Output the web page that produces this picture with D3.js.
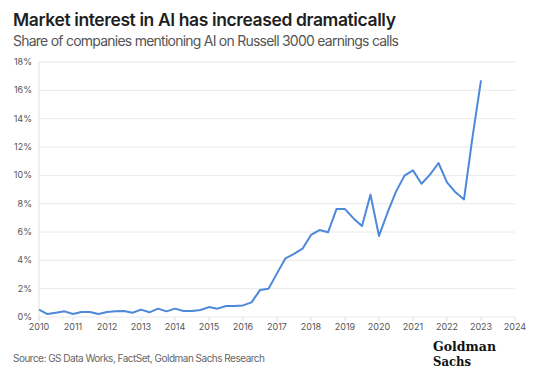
<!DOCTYPE html>
<html>
<head>
<meta charset="utf-8">
<script src="https://cdn.jsdelivr.net/npm/d3@7"></script>
<style>
  body { margin: 0; background: #fff; }
  svg text { font-family: Inter, "Noto Sans", sans-serif; }
</style>
</head>
<body>
<div id="chart"></div>
<script>
// quarterly share of companies mentioning AI (%), starting Q1 2010
var quarters = d3.range(2010, 2023.01, 0.25)
var shares = [
  0.52, 0.21, 0.30, 0.40,
  0.21, 0.35, 0.35, 0.21,
  0.35, 0.40, 0.42, 0.30,
  0.52, 0.33, 0.59, 0.40,
  0.59, 0.42, 0.42, 0.49,
  0.70, 0.59, 0.78, 0.78,
  0.82, 1.03, 1.90, 2.00,
  3.08, 4.14, 4.45, 4.82,
  5.79, 6.14, 5.98, 7.62,
  7.62, 6.96, 6.42, 8.64,
  5.72, 7.36, 8.85, 9.98,
  10.35, 9.41, 10.05, 10.87,
  9.50, 8.80, 8.30, 12.70,
  16.70
]
var yearTicks = d3.range(2010, 2025)
var pctTicks = d3.range(0, 19, 2)

var data = shares.map(function(v, i) { return {t: quarters[i], v: v} })

var width = 554,
    height = 384

var svg = d3.select("#chart")
  .append("svg")
    .attr("width", width)
    .attr("height", height)

var x = d3.scaleLinear()
    .domain([2010, 2024])
    .range([39, 515])

var y = d3.scaleLinear()
    .domain([0, 18])
    .range([317, 62])

// title block
svg.append("text")
    .attr("x", 13).attr("y", 26)
    .attr("font-size", 17.5).attr("font-weight", 600)
    .attr("fill", "#1f1f1f")
    .attr("textLength", 383)
    .text("Market interest in AI has increased dramatically")
svg.append("text")
    .attr("x", 13).attr("y", 46)
    .attr("font-size", 14).attr("fill", "#555")
    .attr("textLength", 386)
    .text("Share of companies mentioning AI on Russell 3000 earnings calls")

// gridlines
svg.append("g")
  .selectAll("line")
  .data(pctTicks)
  .enter()
  .append("line")
    .attr("x1", x(2010)).attr("x2", x(2024))
    .attr("y1", function(d){ return y(d) })
    .attr("y2", function(d){ return y(d) })
    .attr("stroke", "#e8e8e8")
    .attr("stroke-width", 1)

svg.append("line")
    .attr("x1", x(2010)).attr("x2", x(2010))
    .attr("y1", y(18)).attr("y2", y(0) + 4)
    .attr("stroke", "#e2e2e2")

// y labels
svg.append("g")
  .selectAll("text")
  .data(pctTicks)
  .enter()
  .append("text")
    .attr("x", 32)
    .attr("y", function(d){ return y(d) + 3 })
    .attr("text-anchor", "end")
    .attr("font-size", 9)
    .attr("fill", "#555")
    .text(function(d){ return d + "%" })

// x ticks and labels
var xg = svg.append("g")
xg.selectAll("line")
  .data(yearTicks)
  .enter()
  .append("line")
    .attr("x1", function(d){ return x(d) })
    .attr("x2", function(d){ return x(d) })
    .attr("y1", y(0)).attr("y2", y(0) + 4)
    .attr("stroke", "#e2e2e2")
xg.selectAll("text")
  .data(yearTicks)
  .enter()
  .append("text")
    .attr("x", function(d){ return x(d) })
    .attr("y", 330)
    .attr("text-anchor", "middle")
    .attr("font-size", 9)
    .attr("fill", "#555")
    .text(function(d){ return d })

// the series
var line = d3.line()
    .x(function(d){ return x(d.t) })
    .y(function(d){ return y(d.v) })

svg.append("path")
    .datum(data)
    .attr("d", line)
    .attr("fill", "none")
    .attr("stroke", "#4d88d9")
    .attr("stroke-width", 2)
    .attr("stroke-linejoin", "round")

// footer
svg.append("text")
    .attr("x", 13).attr("y", 362)
    .attr("font-size", 10).attr("fill", "#666")
    .attr("textLength", 252)
    .text("Source: GS Data Works, FactSet, Goldman Sachs Research")

var logo = svg.append("g")
    .attr("font-weight", "bold")
    .attr("font-size", 13)
    .attr("fill", "#111")
logo.append("text")
    .attr("x", 433).attr("y", 351)
    .attr("textLength", 63).attr("lengthAdjust", "spacingAndGlyphs")
    .style("font-family", "'DejaVu Serif Condensed', serif")
    .text("Goldman")
logo.append("text")
    .attr("x", 433).attr("y", 366)
    .attr("textLength", 38).attr("lengthAdjust", "spacingAndGlyphs")
    .style("font-family", "'DejaVu Serif Condensed', serif")
    .text("Sachs")
</script>
</body>
</html>
